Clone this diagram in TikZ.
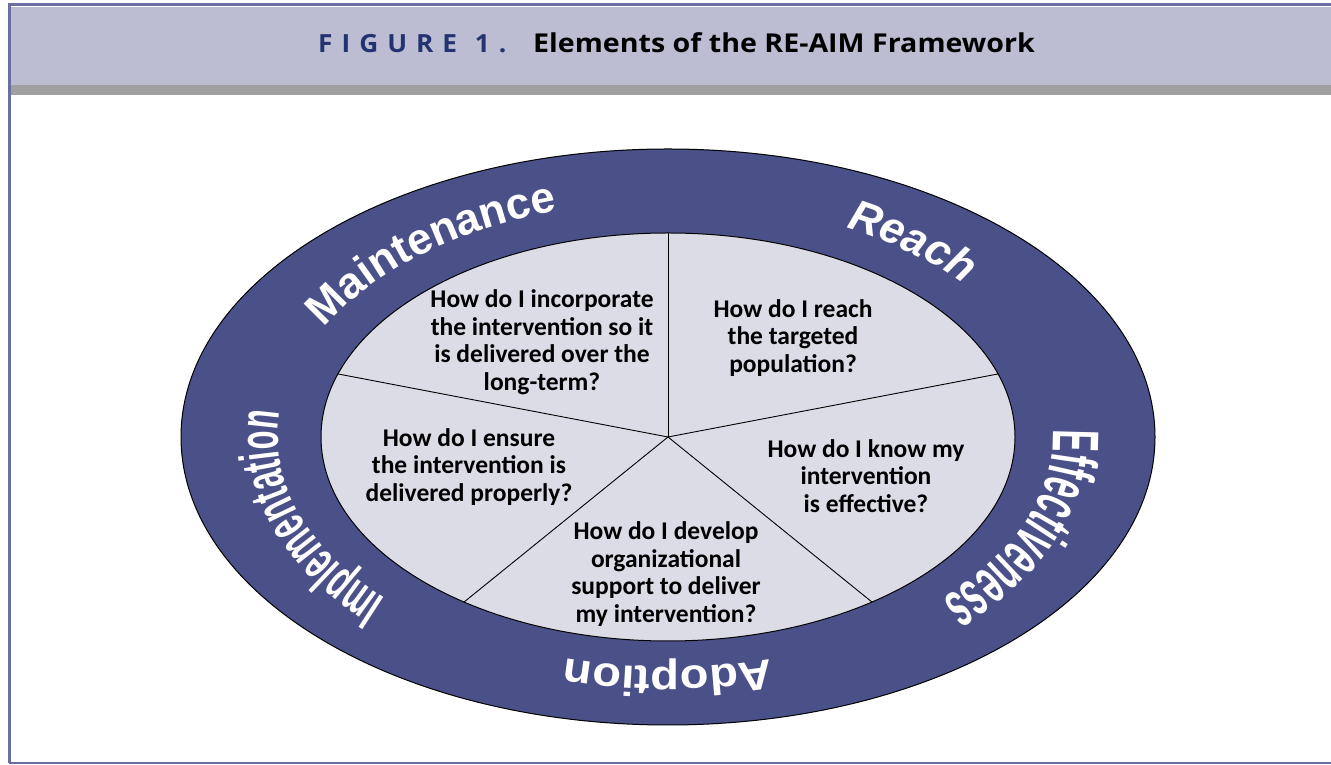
\documentclass[tikz,border=0pt]{standalone}
\usepackage{fontspec}
\setmainfont{Carlito}
\newfontfamily\titlefont[FakeStretch=1.1]{Open Sans}
\newfontfamily\figfont[LetterSpace=36,FakeStretch=1.05]{Open Sans}
\newfontfamily\ringfont{Liberation Sans}
\newfontfamily\ringwide[FakeStretch=1.12]{Liberation Sans}
\newfontfamily\ringnarrow[FakeStretch=0.55]{Liberation Sans}
\newfontfamily\ringthin[FakeStretch=0.5]{Liberation Sans}
\usetikzlibrary{decorations.text,positioning,calc}

\definecolor{framecol}{HTML}{6A6EA0}
\definecolor{headcol}{HTML}{BCBDD3}
\definecolor{barcol}{HTML}{A0A0A0}
\definecolor{ringcol}{HTML}{4A5189}
\definecolor{piecol}{HTML}{DCDCE6}
\definecolor{navy}{HTML}{22336F}

\begin{document}
\begin{tikzpicture}[x=1pt, y=1pt,
    question/.style={align=center, inner sep=0pt, font=\bfseries\fontsize{25.5}{27.5}\selectfont},
    ringlabel/.style={decorate, decoration={text along path, text align=center, text color=white}}]
  \useasboundingbox (0,0) rectangle (1331,765);
  % frame and header band
  \fill[headcol] (9,680) rectangle (1331,758);
  \fill[barcol] (9,670) rectangle (1331,680);
  \draw[framecol, line width=3pt] (9,2) -- (9,760) -- (1331,760);
  \draw[framecol, line width=1.5pt] (9,2) -- (1331,2);
  \node[anchor=base west, inner sep=0pt, text=navy, font=\figfont\bfseries\fontsize{25}{30}\selectfont] (fig) at (318,712) {FIGURE\hspace{2pt} 1.};
  \node[anchor=base west, inner sep=0pt, font=\titlefont\bfseries\fontsize{26}{30}\selectfont] (title) at (533,712) {Elements of the RE-AIM Framework};
  % ring and pie
  \coordinate (ctr) at (668,328);
  \draw[fill=ringcol, line width=1pt] (ctr) ellipse[x radius=487pt, y radius=288pt];
  \draw[fill=piecol, line width=1pt] (ctr) ellipse[x radius=347pt, y radius=204pt];
  \foreach \a [count=\i] in {90,18,-54,-126,162}
    \coordinate (rim\i) at ($(ctr)+(\a:347pt and 204pt)$);
  \foreach \i in {1,...,5}
    \draw[line width=0.9pt] (ctr) -- (rim\i);
  % ring labels, clockwise
  \path[ringlabel, decoration={text={|\ringfont\bfseries\fontsize{44}{44}\selectfont|Maintenance}}]
    ($(ctr)+(162:388pt and 236pt)$) arc[start angle=162, end angle=100, x radius=388pt, y radius=236pt];
  \path[ringlabel, decoration={text={|\ringfont\bfseries\itshape\fontsize{44}{44}\selectfont|Reach}}]
    ($(ctr)+(70:388pt and 236pt)$) arc[start angle=70, end angle=31, x radius=388pt, y radius=236pt];
  \path[ringlabel, decoration={text={|\ringthin\bfseries\fontsize{66}{66}\selectfont|Effectiveness}}]
    ($(ctr)+(12:385pt and 230pt)$) arc[start angle=12, end angle=-52, x radius=385pt, y radius=230pt];
  \path[ringlabel, decoration={text={|\ringwide\bfseries\fontsize{42}{42}\selectfont|Adoption}}]
    ($(ctr)+(-60:388pt and 230pt)$) arc[start angle=-60, end angle=-120, x radius=388pt, y radius=230pt];
  \path[ringlabel, decoration={text={|\ringnarrow\bfseries\fontsize{56}{56}\selectfont|Implementation}}]
    ($(ctr)+(228:390pt and 235pt)$) arc[start angle=228, end angle=168, x radius=390pt, y radius=235pt];
  % questions
  \node[question] (qmaint) at (542,423) {How do I incorporate\\the intervention so it\\is delivered over the\\long-term?};
  \node[question] (qreach) at (793,427) {How do I reach\\the targeted\\population?};
  \node[question] (qeff) at (866,289) {How do I know my\\intervention\\is effective?};
  \node[question] (qadopt) at (666,191) {How do I develop\\organizational\\support to deliver\\my intervention?};
  \node[question] (qimpl) at (469,298) {How do I ensure\\the intervention is\\delivered properly?};
\end{tikzpicture}
\end{document}
